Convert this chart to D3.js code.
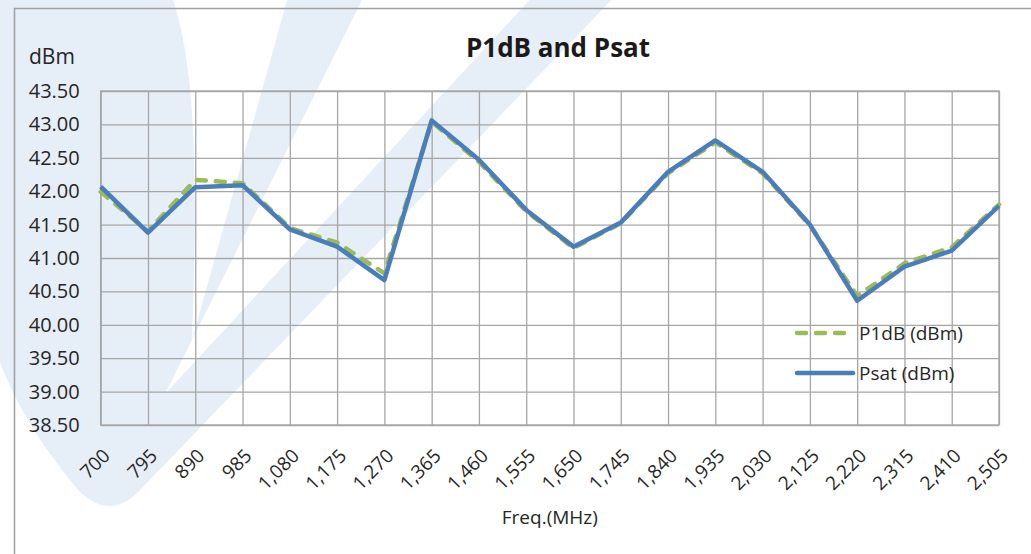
<!DOCTYPE html>
<html>
<head>
<meta charset="utf-8">
<script src="https://cdn.jsdelivr.net/npm/d3@7"></script>
<style>
  body { margin: 0; background: #fff; }
  #vis text { font-family: "Open Sans", Lato, sans-serif; fill: #262626; }
</style>
</head>
<body>
<div id="vis"></div>
<script>
// data
const freqs = [700, 795, 890, 985, 1080, 1175, 1270, 1365, 1460, 1555,
               1650, 1745, 1840, 1935, 2030, 2125, 2220, 2315, 2410, 2505];
const p1dbValues = [41.99, 41.40, 42.17, 42.12, 41.45, 41.23, 40.77, 43.04, 42.44, 41.70,
                    41.15, 41.52, 42.27, 42.73, 42.27, 41.49, 40.43, 40.92, 41.16, 41.80];
const psatValues = [42.07, 41.38, 42.06, 42.09, 41.43, 41.17, 40.67, 43.06, 42.47, 41.72,
                    41.17, 41.53, 42.29, 42.76, 42.29, 41.50, 40.36, 40.87, 41.11, 41.78];
const yTicks = [38.5, 39.0, 39.5, 40.0, 40.5, 41.0, 41.5, 42.0, 42.5, 43.0, 43.5];
const seriesNames = ["P1dB (dBm)", "Psat (dBm)"];

const width = 1031;
const height = 554;
const margin = { left: 100.7, right: 32, top: 91, bottom: 129 };
const plotW = width - margin.left - margin.right;
const plotH = height - margin.top - margin.bottom;

const green = "#9bbb59";
const blue = "#4a7ebb";
const gridColor = "#a6a6a6";

var svg = d3.select("#vis")
  .append("svg")
  .attr("width", width)
  .attr("height", height);

// faint logo watermark behind everything
svg.append("path")
  .attr("d", "M-10,-10 L170,-10 C190,50 200,120 192,340 L290,-10 L367,-10 L165,394" +
             " L539,-10 L621,-10 L142,488 Q112,522 80,492 C40,445 5,390 -10,330 Z")
  .attr("fill", "#e6eef7");

// chart frame (runs off the right and bottom edges)
svg.append("rect")
  .attr("x", 14.5).attr("y", 8.5)
  .attr("width", 1040).attr("height", 560)
  .attr("fill", "none")
  .attr("stroke", "#a0a0a0")
  .attr("stroke-width", 1.5);

var g = svg.append("g")
  .attr("transform", "translate(" + margin.left + "," + margin.top + ")");

var x = d3.scalePoint().domain(freqs).range([0, plotW]);
var y = d3.scaleLinear().domain([38.5, 43.5]).range([plotH, 0]);

// horizontal grid + y labels
var yAxis = g.append("g")
  .call(d3.axisLeft(y).tickValues(yTicks).tickFormat(d3.format(".2f"))
    .tickSize(-plotW).tickPadding(21));
yAxis.select(".domain").remove();
yAxis.selectAll("line").attr("stroke", gridColor).attr("stroke-width", 1.3);
yAxis.selectAll("text").style("font-size", "20px");

// vertical grid + rotated x labels
var xAxis = g.append("g")
  .attr("transform", "translate(0," + plotH + ")")
  .call(d3.axisBottom(x).tickFormat(d3.format(",")).tickSize(-plotH));
xAxis.select(".domain").remove();
xAxis.selectAll("line").attr("stroke", gridColor).attr("stroke-width", 1.3);
xAxis.selectAll("text")
  .attr("x", 0).attr("y", 0).attr("dy", 0)
  .attr("text-anchor", "end")
  .attr("transform", "translate(10,32) rotate(-45)")
  .style("font-size", "19px");

g.append("rect")
  .attr("width", plotW).attr("height", plotH)
  .attr("fill", "none")
  .attr("stroke", gridColor)
  .attr("stroke-width", 1.3);

var line = d3.line()
  .x(function(d) { return x(d[0]); })
  .y(function(d) { return y(d[1]); });

g.append("path")
  .datum(d3.zip(freqs, p1dbValues))
  .attr("d", line)
  .attr("fill", "none")
  .attr("stroke", green)
  .attr("stroke-width", 4.5)
  .attr("stroke-dasharray", "9 10")
  .attr("stroke-linecap", "round");

g.append("path")
  .datum(d3.zip(freqs, psatValues))
  .attr("d", line)
  .attr("fill", "none")
  .attr("stroke", blue)
  .attr("stroke-width", 4.5)
  .attr("stroke-linejoin", "round");

// titles
svg.append("text")
  .attr("x", 558).attr("y", 57)
  .attr("text-anchor", "middle")
  .style("font-size", "26px")
  .style("font-weight", "bold")
  .style("fill", "#1a1a1a")
  .text("P1dB and Psat");

svg.append("text")
  .attr("x", 29).attr("y", 64)
  .style("font-size", "21px")
  .text("dBm");

svg.append("text")
  .attr("x", margin.left + plotW / 2).attr("y", 524)
  .attr("text-anchor", "middle")
  .style("font-size", "19px")
  .text("Freq.(MHz)");

// legend
var legend = svg.append("g");
var legRows = [
  { name: seriesNames[0], color: green, dash: "9 10", y: 333 },
  { name: seriesNames[1], color: blue, dash: null, y: 373 }
];
legRows.forEach(function(r) {
  legend.append("line")
    .attr("x1", 797).attr("x2", 853)
    .attr("y1", r.y).attr("y2", r.y)
    .attr("stroke", r.color)
    .attr("stroke-width", 4.5)
    .attr("stroke-linecap", "round")
    .attr("stroke-dasharray", r.dash);
  legend.append("text")
    .attr("x", 859).attr("y", r.y + 7)
    .style("font-size", "19px")
    .text(r.name);
});
</script>
</body>
</html>
